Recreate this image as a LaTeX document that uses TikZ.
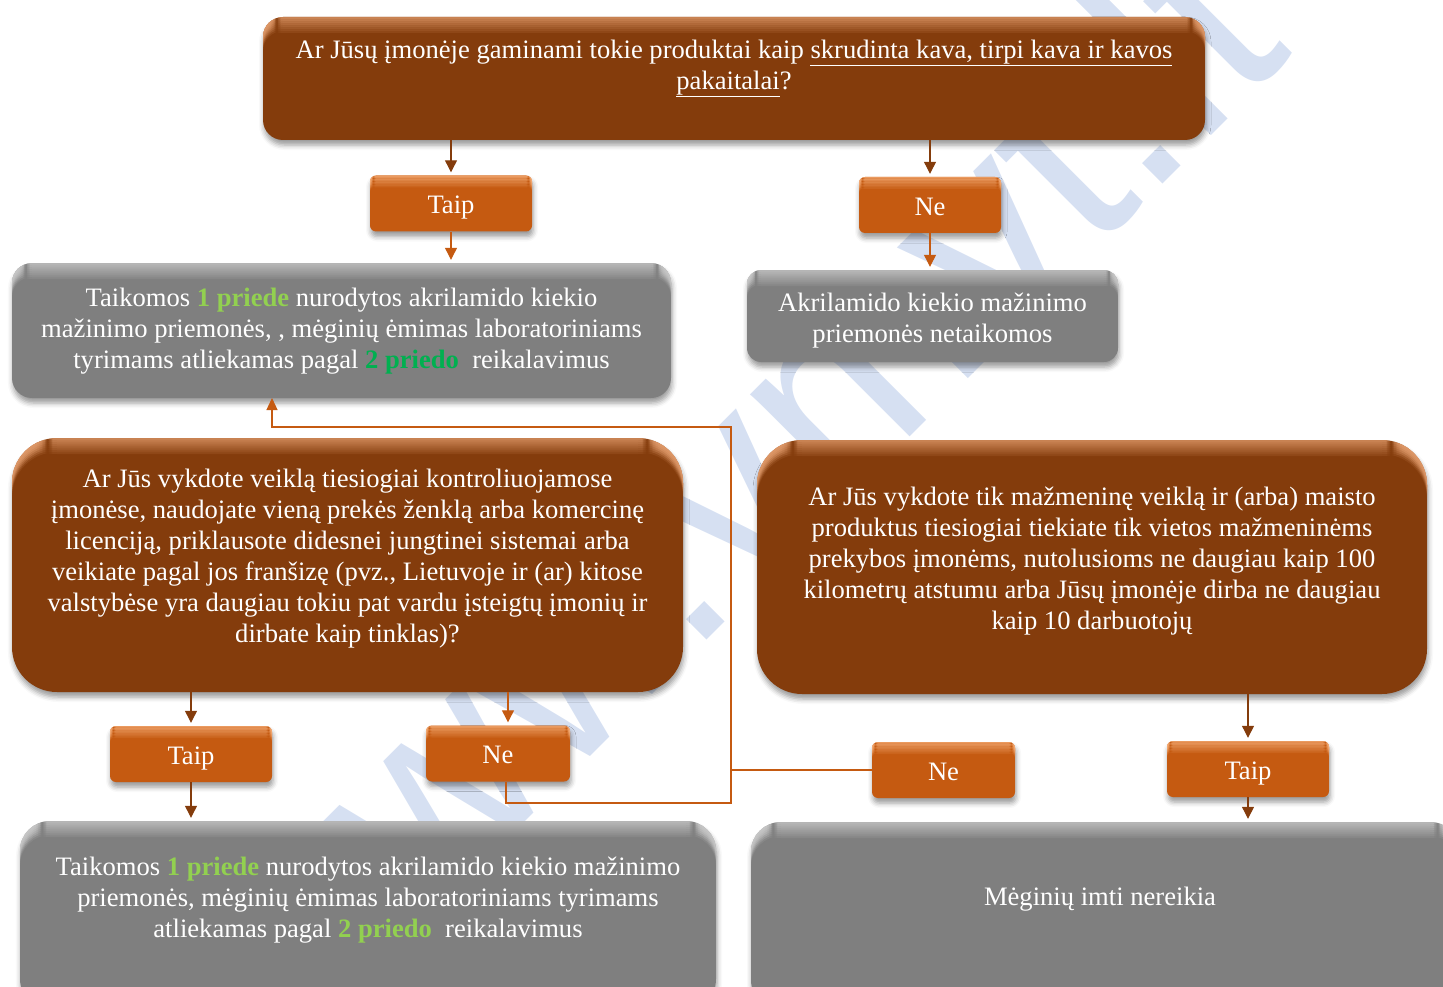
\documentclass[tikz,border=0pt]{standalone}
\usepackage{fontspec}
\setmainfont{Liberation Serif}
\setsansfont{Liberation Sans}
\usetikzlibrary{arrows.meta,shadows.blur}

\definecolor{brn}{HTML}{843C0C}
\definecolor{brnhi}{HTML}{E09A6A}
\definecolor{org}{HTML}{C55A11}
\definecolor{orghi}{HTML}{F7B07A}
\definecolor{gry}{HTML}{7F7F7F}
\definecolor{gryhi}{HTML}{C8C8C8}
\definecolor{grnA}{HTML}{92D050}
\definecolor{grnB}{HTML}{00B050}
\definecolor{wmblue}{HTML}{D6E0F2}

\newcommand{\pA}[1]{{\color{grnA}\bfseries #1}}
\newcommand{\pB}[1]{{\color{grnB}\bfseries #1}}
% soft light rim along the top of a box
\newcommand{\topglow}[2]{\foreach \k in {0,...,7}{\fill[#1,opacity=0.75-0.09*\k] ([yshift=-#2*\k pt]path picture bounding box.north west) rectangle ([yshift=-#2*\k pt-#2 pt]path picture bounding box.north east);}}

\begin{document}
\begin{tikzpicture}[x=1pt,y=-1pt,font=\fontsize{26.6}{31}\selectfont]
    \tikzstyle{shade}=[blur shadow={shadow xshift=1pt,shadow yshift=-5pt,shadow blur radius=5pt,shadow opacity=40}]
    \tikzstyle{qbox}=[shade,rounded corners=20pt,fill=brn,path picture={\topglow{brnhi}{2}}]
    \tikzstyle{gbox}=[shade,rounded corners=20pt,fill=gry,path picture={\topglow{gryhi}{2}}]
    \tikzstyle{btn}=[shade,rounded corners=6pt,fill=org,minimum height=56,text=white,text height=20pt,text depth=0pt,path picture={\topglow{orghi}{1.5}}]
    \tikzstyle{txt}=[text=white,align=center,inner sep=0pt]
    \tikzstyle{arr}=[-{Triangle[width=12pt,length=12pt]},line width=1.2pt,shorten >=3pt]
    \tikzstyle{link}=[draw=org,line width=1.2pt]

    \useasboundingbox (0,0) rectangle (1443,987);

    % watermark
    \node[text=wmblue,rotate=45,font=\sffamily\fontsize{270}{270}\selectfont] (wmark) at (722,488) {www.vmvt.lt};

    % questions
    \node[qbox,minimum width=942,minimum height=123] (q1) at (734,78.5) {};
    \node[txt] (q1t) at ([yshift=10pt]q1) {Ar Jūsų įmonėje gaminami tokie produktai kaip \underline{skrudinta kava, tirpi kava ir kavos}\\ \underline{pakaitalai}?};
    \node[qbox,rounded corners=45pt,minimum width=671,minimum height=254] (q2) at (347.5,565) {};
    \node[txt] (q2t) at ([yshift=6pt]q2) {Ar Jūs vykdote veiklą tiesiogiai kontroliuojamose\\ įmonėse, naudojate vieną prekės ženklą arba komercinę\\ licenciją, priklausote didesnei jungtinei sistemai arba\\ veikiate pagal jos franšizę (pvz., Lietuvoje ir (ar) kitose\\ valstybėse yra daugiau tokiu pat vardu įsteigtų įmonių ir\\ dirbate kaip tinklas)?};
    \node[qbox,rounded corners=45pt,minimum width=670,minimum height=254] (q3) at (1092,567) {};
    \node[txt] (q3t) at ([yshift=5.5pt]q3) {Ar Jūs vykdote tik mažmeninę veiklą ir (arba) maisto\\ produktus tiesiogiai tiekiate tik vietos mažmeninėms\\ prekybos įmonėms, nutolusioms ne daugiau kaip 100\\ kilometrų atstumu arba Jūsų įmonėje dirba ne daugiau\\ kaip 10 darbuotojų};

    % answers
    \foreach \name/\x/\y/\w/\lbl in {taip1/451/203.5/162/Taip, ne1/930/205/142/Ne, taip2/191/754/162/Taip, ne2/498/753.5/144/Ne, ne3/943.5/770/143/Ne, taip3/1248/769/162/Taip}
        \node[btn,minimum width=\w] (\name) at (\x,\y) {\lbl};

    % outcomes
    \node[gbox,minimum width=659,minimum height=135] (g1) at (341.5,330.5) {};
    \node[txt] (g1t) at ([yshift=-1pt]g1) {Taikomos \pA{1 priede} nurodytos akrilamido kiekio\\ mažinimo priemonės, , mėginių ėmimas laboratoriniams\\ tyrimams atliekamas pagal \pB{2 priedo}~ reikalavimus};
    \node[gbox,rounded corners=14pt,minimum width=371,minimum height=92] (g2) at (932.5,316) {};
    \node[txt] (g2t) at ([yshift=-5pt]g2) {Akrilamido kiekio mažinimo\\ priemonės netaikomos};
    \node[gbox,rounded corners=30pt,minimum width=696,minimum height=188] (g3) at (368,915) {};
    \node[txt] (g3t) at ([yshift=15pt]g3) {Taikomos \pA{1 priede} nurodytos akrilamido kiekio mažinimo\\ priemonės, mėginių ėmimas laboratoriniams tyrimams\\ atliekamas pagal \pA{2 priedo}~ reikalavimus};
    \node[gbox,rounded corners=30pt,minimum width=709,minimum height=188] (g4) at (1105.5,916) {};
    \node[txt] (g4t) at (1100,899) {Mėginių imti nereikia};

    % arrows
    \foreach \a/\b/\c in {q1/taip1/brn, q1/ne1/brn, q2/taip2/brn, q3/taip3/brn}
        \draw[arr,\c] (\a.south -| \b) -- (\b.north);
    \draw[arr,org] ([xshift=10pt]ne2.north |- q2.south) -- ([xshift=10pt]ne2.north);
    \foreach \a/\b/\c in {taip1/g1/org, ne1/g2/org, taip2/g3/brn, taip3/g4/brn}
        \draw[arr,\c] (\a.south) -- (\a.south |- \b.north);

    % "Ne" back to the first outcome
    \coordinate (j1) at (731,803);
    \coordinate (j2) at (731,427);
    \coordinate (t1) at (272,398);
    \draw[link,-{Triangle[width=11pt,length=12pt]},org] ([xshift=8pt]ne2.south) |- (j1) -- (j2) -| (t1);
    \draw[link] (ne3.west) -- (ne3.west -| j1);
\end{tikzpicture}
\end{document}
